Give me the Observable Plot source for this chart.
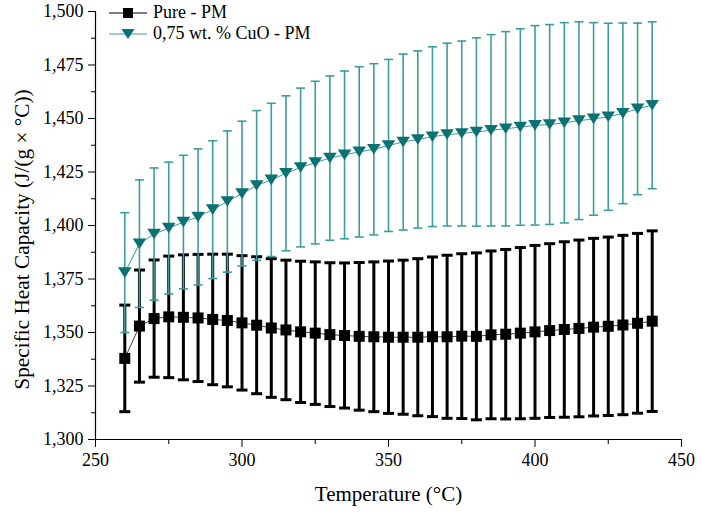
<!DOCTYPE html>
<html><head><meta charset="utf-8">
<script src="https://cdn.jsdelivr.net/npm/d3@7"></script>
<script src="https://cdn.jsdelivr.net/npm/@observablehq/plot@0.6"></script>
<style>
body{margin:0;background:#fff;}
#wrap{position:relative;width:702px;height:517px;font-family:"Liberation Serif","Times New Roman",serif;}
#legend{position:absolute;left:109px;top:2px;font-size:18px;color:#000;}
.row{display:flex;align-items:center;height:21px;}
.row svg{margin-right:6px;}
</style></head>
<body><div id="wrap"><div id="legend"></div></div>
<script>
const temperature = [260,265,270,275,280,285,290,295,300,305,310,315,320,325,330,335,340,345,350,355,360,365,370,375,380,385,390,395,400,405,410,415,420,425,430,435,440];
const pureMean = [1.3379,1.3530,1.3565,1.3573,1.3571,1.3568,1.3561,1.3556,1.3545,1.3534,1.3521,1.3512,1.3503,1.3497,1.3490,1.3486,1.3482,1.3480,1.3478,1.3478,1.3478,1.3480,1.3480,1.3483,1.3482,1.3489,1.3492,1.3497,1.3503,1.3509,1.3514,1.3519,1.3525,1.3529,1.3535,1.3543,1.3553];
const pureErr = [0.0249,0.0262,0.0274,0.0284,0.0292,0.0297,0.0305,0.0310,0.0314,0.0320,0.0324,0.0326,0.0330,0.0333,0.0336,0.0339,0.0345,0.0350,0.0356,0.0360,0.0367,0.0373,0.0381,0.0385,0.0390,0.0392,0.0396,0.0400,0.0404,0.0406,0.0410,0.0413,0.0415,0.0417,0.0419,0.0420,0.0422];
const cuoMean = [1.3780,1.3915,1.3960,1.3988,1.4016,1.4040,1.4074,1.4112,1.4149,1.4187,1.4213,1.4244,1.4271,1.4294,1.4315,1.4330,1.4344,1.4356,1.4374,1.4390,1.4402,1.4415,1.4425,1.4430,1.4437,1.4445,1.4452,1.4460,1.4468,1.4472,1.4480,1.4490,1.4498,1.4508,1.4524,1.4545,1.4562];
const cuoErr = [0.0280,0.0298,0.0309,0.0308,0.0312,0.0318,0.0322,0.0330,0.0338,0.0350,0.0358,0.0362,0.0371,0.0380,0.0384,0.0392,0.0398,0.0400,0.0402,0.0411,0.0414,0.0420,0.0427,0.0432,0.0440,0.0447,0.0454,0.0459,0.0466,0.0467,0.0468,0.0462,0.0450,0.0437,0.0422,0.0401,0.0390];
const seriesNames = ["Pure - PM", "0,75 wt. % CuO - PM"];
const yMajorTicks = [1.300,1.325,1.350,1.375,1.400,1.425,1.450,1.475,1.500];
const yMinorTicks = [1.3125,1.3375,1.3625,1.3875,1.4125,1.4375,1.4625,1.4875];
const xMajorTicks = [250,300,350,400,450];
const xMinorTicks = [275,325,375,425];
const xTitle = "Temperature (°C)";
const yTitle = "Specific Heat Capacity (J/(g × °C))";

const pure = temperature.map((t,i)=>({t, m:pureMean[i], lo:pureMean[i]-pureErr[i], hi:pureMean[i]+pureErr[i]}));
const cuo = temperature.map((t,i)=>({t, m:cuoMean[i], lo:cuoMean[i]-cuoErr[i], hi:cuoMean[i]+cuoErr[i]}));

const rad = s => Math.sqrt(s/Math.PI);
const capSym = {draw(c,s){const r=rad(s); c.moveTo(-r,0); c.lineTo(r,0);}};
const sqSym = {draw(c,s){const r=rad(s); c.rect(-r,-r,2*r,2*r);}};
const triSym = {draw(c,s){const r=rad(s); const h=r*0.78; c.moveTo(-r,-h); c.lineTo(r,-h); c.lineTo(0,h); c.closePath();}};

const BLACK="#000", TEAL_M="#0a7272", TEAL_L="#3b9d9d";
const fmt = d => d.toFixed(3).replace(".", ",");
const font = '"Liberation Serif","Times New Roman",serif';

const chart = Plot.plot({
  width:702, height:517,
  marginLeft:95, marginRight:21, marginTop:11, marginBottom:78,
  x:{domain:[250,450]}, y:{domain:[1.3,1.5]},
  style:{fontFamily:font, fontSize:"18px", background:"#fff", color:"#000"},
  marks:[
    // pure
    Plot.ruleX(pure,{x:"t", y1:"lo", y2:"hi", stroke:BLACK, strokeWidth:3}),
    Plot.dot(pure,{x:"t", y:"lo", symbol:capSym, r:5.5, fill:"none", stroke:BLACK, strokeWidth:3}),
    Plot.dot(pure,{x:"t", y:"hi", symbol:capSym, r:5.5, fill:"none", stroke:BLACK, strokeWidth:3}),
    Plot.line(pure,{x:"t", y:"m", stroke:"#444", strokeWidth:1}),
    Plot.dot(pure,{x:"t", y:"m", symbol:sqSym, r:5.5, fill:BLACK, stroke:"none"}),
    // cuo
    Plot.ruleX(cuo,{x:"t", y1:"lo", y2:"hi", stroke:TEAL_L, strokeWidth:1.6}),
    Plot.dot(cuo,{x:"t", y:"lo", symbol:capSym, r:4.5, fill:"none", stroke:TEAL_L, strokeWidth:1.6}),
    Plot.dot(cuo,{x:"t", y:"hi", symbol:capSym, r:4.5, fill:"none", stroke:TEAL_L, strokeWidth:1.6}),
    Plot.line(cuo,{x:"t", y:"m", stroke:TEAL_L, strokeWidth:1}),
    Plot.dot(cuo,{x:"t", y:"m", symbol:triSym, r:6.8, fill:TEAL_M, stroke:"none"}),
    // axes
    Plot.ruleX([250],{stroke:"#000", strokeWidth:1.2}),
    Plot.ruleY([1.3],{stroke:"#000", strokeWidth:1.2}),
    Plot.axisY(yMajorTicks,{tickSize:7, tickPadding:5, tickFormat:fmt, label:null, fontSize:18}),
    Plot.axisY(yMinorTicks,{tickSize:4, tickFormat:()=>"", label:null}),
    Plot.axisX(xMajorTicks,{tickSize:8, tickPadding:6, label:null, fontSize:18}),
    Plot.axisX(xMinorTicks,{tickSize:5, tickFormat:()=>"", label:null}),
    Plot.text([xTitle],{frameAnchor:"bottom", dy:61, fontSize:21, text:d=>d}),
    Plot.text([yTitle],{frameAnchor:"left", dx:-73, dy:14, rotate:-90, textAnchor:"middle", fontSize:21.3, text:d=>d})
  ]
});
const wrap = document.getElementById("wrap");
wrap.insertBefore(chart, wrap.firstChild);

const legend = document.getElementById("legend");
const icons = [
  `<svg width="38" height="14"><line x1="0" y1="7" x2="38" y2="7" stroke="#000" stroke-width="1"/><rect x="14" y="2" width="10" height="10" fill="#000"/></svg>`,
  `<svg width="38" height="14"><line x1="0" y1="7" x2="38" y2="7" stroke="${TEAL_L}" stroke-width="1"/><path d="M12.5,2 L25.5,2 L19,12 Z" fill="${TEAL_M}"/></svg>`
];
seriesNames.forEach((n,i)=>{
  const row=document.createElement("div"); row.className="row";
  row.innerHTML = icons[i] + `<span>${n}</span>`;
  legend.appendChild(row);
});
</script>
</body></html>
